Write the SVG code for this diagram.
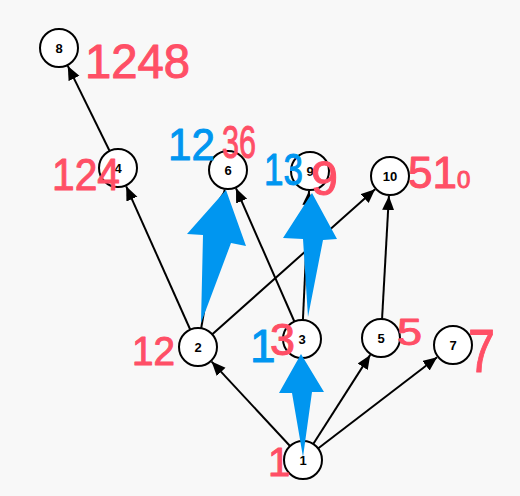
<svg xmlns="http://www.w3.org/2000/svg" width="520" height="496" viewBox="0 0 520 496">
<style>
.node circle{fill:#fff;stroke:#000;stroke-width:2}
.node text{font-family:"Liberation Sans",Arial,sans-serif;font-weight:bold;font-size:13px;text-anchor:middle;dominant-baseline:central;fill:#000}
.edge{stroke:#000;stroke-width:2;fill:none;marker-end:url(#ah)}
.big{fill:#0096f0}
.hw{font-family:"Liberation Sans",Arial,sans-serif;stroke-linejoin:round;stroke-linecap:round;stroke-width:1}
.r{fill:#ff4f66;stroke:#ff4f66}
.b{fill:#0096f0;stroke:#0096f0}
</style>
<defs>
<marker id="ah" markerUnits="userSpaceOnUse" markerWidth="16" markerHeight="14" refX="14" refY="6" orient="auto">
<path d="M0,0 L14,6 L0,12 z" fill="#000"/>
</marker>
</defs>
<rect width="520" height="496" fill="#f8f8f8"/>
<g id="edges">
<line class="edge" x1="118" y1="168" x2="67.8" y2="65.9"/>
<line class="edge" x1="198" y1="347" x2="126.2" y2="186.3"/>
<line class="edge" x1="198" y1="347" x2="224.7" y2="189.7"/>
<line class="edge" x1="302" y1="339" x2="236" y2="188.3"/>
<line class="edge" x1="198" y1="347" x2="375.1" y2="189.3"/>
<line class="edge" x1="302" y1="339" x2="309" y2="191"/>
<line class="edge" x1="381" y1="338" x2="388.9" y2="196"/>
<line class="edge" x1="303" y1="460" x2="211.6" y2="361.6"/>
<line class="edge" x1="303" y1="460" x2="302" y2="359"/>
<line class="edge" x1="303" y1="460" x2="370.2" y2="354.9"/>
<line class="edge" x1="303" y1="460" x2="437.1" y2="357.2"/>
</g>
<g id="n8" class="node"><circle cx="59" cy="48" r="19"/><text x="59" y="48">8</text></g>
<g id="n4" class="node"><circle cx="118" cy="168" r="19"/><text x="118" y="168">4</text></g>
<g id="n6" class="node"><circle cx="228" cy="170" r="19"/><text x="228" y="170">6</text></g>
<g id="n9" class="node"><circle cx="310" cy="171" r="19"/><text x="310" y="171">9</text></g>
<g id="n10" class="node"><circle cx="390" cy="176" r="19"/><text x="390" y="176">10</text></g>
<g id="n2" class="node"><circle cx="198" cy="347" r="19"/><text x="198" y="347">2</text></g>
<g id="n3" class="node"><circle cx="302" cy="339" r="19"/><text x="302" y="339">3</text></g>
<g id="n5" class="node"><circle cx="381" cy="338" r="19"/><text x="381" y="338">5</text></g>
<g id="n7" class="node"><circle cx="453" cy="345" r="19"/><text x="453" y="345">7</text></g>
<g id="n1" class="node"><circle cx="303" cy="460" r="19"/><text x="303" y="460">1</text></g>
<g id="annotations">
<path class="big" d="M226,190 L246,246 L231,243 L201,323 L203,235 L187,234 z"/>
<path class="big" d="M312,193 L337,239 L323,240 L308,317 L303,239 L283,238 z"/>
<path class="big" d="M301,354 L324,392 L312,392 L303,457 L292,393 L279,393 z"/>
<text class="hw r" x="85" y="78" font-size="48" textLength="105" lengthAdjust="spacingAndGlyphs">1248</text>
<text class="hw r" x="52" y="190" font-size="44" textLength="68" lengthAdjust="spacingAndGlyphs">124</text>
<text class="hw b" x="168" y="160" font-size="44" textLength="47" lengthAdjust="spacingAndGlyphs">12</text>
<text class="hw r" x="222" y="158" font-size="46" textLength="34" lengthAdjust="spacingAndGlyphs">36</text>
<text class="hw b" x="264" y="185" font-size="44" textLength="39" lengthAdjust="spacingAndGlyphs">13</text>
<text class="hw r" x="311" y="195" font-size="48" textLength="27" lengthAdjust="spacingAndGlyphs">9</text>
<text class="hw r" x="408" y="188" font-size="44">5<tspan>1</tspan><tspan font-size="24">0</tspan></text>
<text class="hw r" x="132" y="365" font-size="40" textLength="43" lengthAdjust="spacingAndGlyphs">12</text>
<text class="hw b" x="250" y="362" font-size="46">1</text>
<text class="hw r" x="270" y="355" font-size="44" textLength="25" lengthAdjust="spacingAndGlyphs">3</text>
<text class="hw r" x="397" y="345" font-size="36" textLength="25" lengthAdjust="spacingAndGlyphs">5</text>
<text class="hw r" x="468" y="372" font-size="62" textLength="27" lengthAdjust="spacingAndGlyphs">7</text>
<text class="hw r" x="268" y="476" font-size="40">1</text>
</g>
</svg>
